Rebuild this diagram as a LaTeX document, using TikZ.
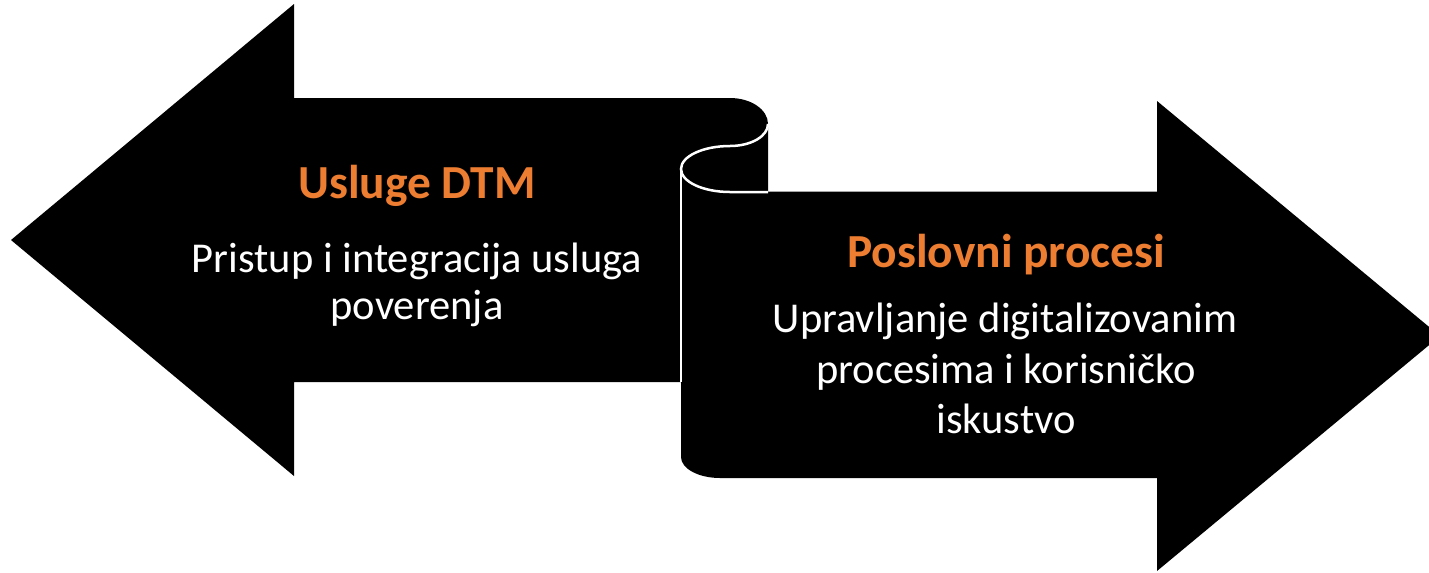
\documentclass[tikz,border=0pt]{standalone}
\usepackage{fontspec}
\setmainfont{Carlito}
\definecolor{accent}{HTML}{ED7D31}
\begin{document}
\begin{tikzpicture}[x=0.02cm,y=-0.02cm,
  shapefill/.style={fill=black,draw=none},
  curl/.style={draw=white,line width=0.05cm},
  title/.style={anchor=base,inner sep=0pt,text=accent,font=\fontsize{27}{32}\selectfont\bfseries},
  body/.style={anchor=base,inner sep=0pt,text=white,font=\fontsize{24.2}{29}\selectfont}]
\useasboundingbox (0,0) rectangle (1429,572);
% left arrow with rolled top
\fill[shapefill] (11,240) -- (294,4) -- (294,98) -- (730,98)
  .. controls (751,98) and (768,109.6) .. (768,124) -- (768,192)
  -- (681,192) -- (681,382) -- (294,382) -- (294,476) -- cycle;
% right arrow
\fill[shapefill] (681,191.5) -- (1157,191.5) -- (1157,101) -- (1440,336)
  -- (1157,571) -- (1157,478) -- (720,478)
  .. controls (698.5,478) and (681,468.6) .. (681,457) -- cycle;
% curl lines
\draw[curl] (768,124) .. controls (768,136.2) and (751,146) .. (730,146)
  .. controls (702.9,146) and (681,156.3) .. (681,169)
  .. controls (681,181.7) and (702.9,192) .. (730,192) -- (768,192);
\draw[curl] (681,169) -- (681,382);
% texts
\node[title] (t1) at (417,198) {Usluge DTM};
\node[body] (b1) at (417,272) {Pristup i integracija usluga};
\node[body] (b2) at (417,319) {poverenja};
\node[title] (t2) at (1006,267) {Poslovni procesi};
\node[body] (b3) at (1005,332) {Upravljanje digitalizovanim};
\node[body] (b4) at (1006,383) {procesima i korisničko};
\node[body] (b5) at (1006,433) {iskustvo};
\end{tikzpicture}
\end{document}
